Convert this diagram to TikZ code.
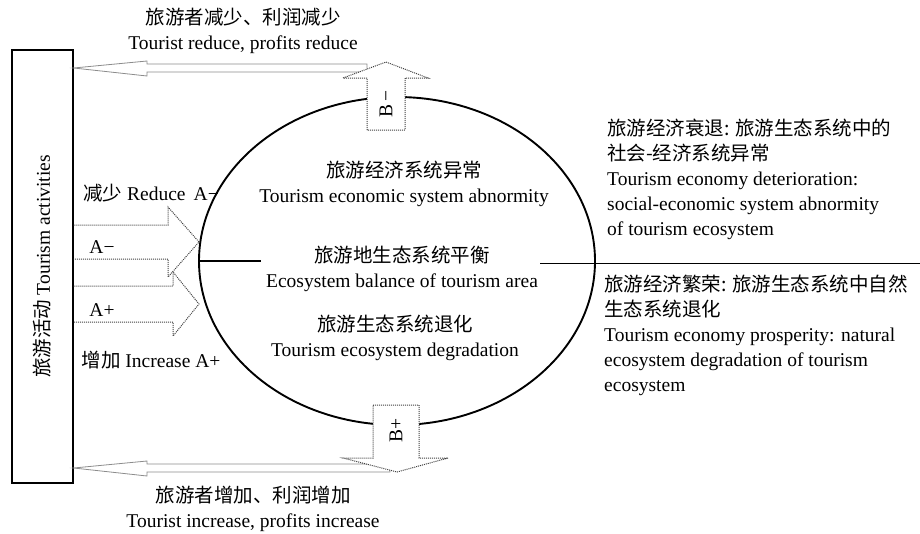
\documentclass[tikz,border=0pt]{standalone}
\usepackage{fontspec}
\setmainfont{Liberation Serif}
\newfontfamily\cjk{Noto Sans CJK SC}
\usetikzlibrary{shapes.geometric}
\newcommand{\ZhLess}{{\cjk 旅游者减少、利润减少}}
\newcommand{\ZhMore}{{\cjk 旅游者增加、利润增加}}
\newcommand{\EnLess}{Tourist reduce, profits reduce}
\newcommand{\EnMore}{Tourist increase, profits increase}

\begin{document}
\begin{tikzpicture}[x=1pt,y=-1pt,font=\fontsize{19.5}{25}\selectfont,
  blk/.style={draw=gray!50!black, dash pattern=on 1pt off 1pt, line width=1pt},
  flow/.style={draw=gray!90, line width=0.8pt, fill=white},
  txt/.style={align=center, inner sep=0pt}]
  \useasboundingbox (0,0) rectangle (920,533);

  \node[draw, line width=1.2pt, minimum width=61, minimum height=433, inner sep=0] (act) at (42.5,266.5) {};
  \node[rotate=90, inner sep=0] (actlbl) at (act) {{\cjk 旅游活动} Tourism activities};
  \node[ellipse, draw, line width=1.9pt, minimum width=396, minimum height=328, inner sep=0] (eco) at (397,261) {};

  \draw[line width=1.2pt] (eco.west) -- +(63,0);
  \draw[line width=0.9pt] (540,263) -- (920,263);

  \draw[flow] (act.east |- 0,68) -- (147,61) -- (147,64) -- (367,64) -- (367,72) -- (147,72) -- (147,76) -- cycle;
  \draw[flow] (act.east |- 0,468) -- (147,461) -- (147,464) -- (390,464) -- (390,472) -- (147,472) -- (147,476) -- cycle;

  \draw[blk, fill=white] (367,130) -- (367,78) -- (343,78) -- (386,62) -- (428,78) -- (405,78) -- (405,130) -- cycle;
  \draw[blk, fill=white] (373,405) -- (419,405) -- (419,458) -- (448,458) -- (397,472) -- (343,458) -- (373,458) -- cycle;
  \node[rotate=90, inner sep=0] (bminus) at (386,104) {B\,−};
  \node[rotate=90, inner sep=0] (bplus) at (396,430) {B+};

  \draw[blk] (act.east |- 0,225) -- (168,225) -- (168,207) -- (199,242) -- (168,277) -- (168,259) -- (act.east |- 0,259);
  \draw[blk] (act.east |- 0,286) -- (173,286) -- (173,272) -- (199,304) -- (173,336) -- (173,322) -- (act.east |- 0,322);

  \node[inner sep=0] (redA) at (151,193) {{\cjk 减少} Reduce \,A−};
  \node[inner sep=0] (am) at (102,247) {A−};
  \node[inner sep=0] (ap) at (102,310) {A+};
  \node[inner sep=0] (incA) at (151,360) {{\cjk 增加} Increase A+};

  \node[txt] (less) at (243,31) {\ZhLess\\ \EnLess};
  \node[txt] (more) at (253,509) {\ZhMore\\ \EnMore};

  \node[txt] (econ) at (404,184) {{\cjk 旅游经济系统异常}\\ Tourism economic system abnormity};
  \node[txt] (bal) at (402,269) {{\cjk 旅游地生态系统平衡}\\ Ecosystem balance of tourism area};
  \node[txt] (degr) at (395,338) {{\cjk 旅游生态系统退化}\\ Tourism ecosystem degradation};

  \node[txt, align=left, anchor=north west] (down) at (607,119) {{\cjk 旅游经济衰退: 旅游生态系统中的}\\ {\cjk 社会-经济系统异常}\\ Tourism economy deterioration:\\ social-economic system abnormity\\ of tourism ecosystem};
  \node[txt, align=left, anchor=north west] (up) at (604,275) {{\cjk 旅游经济繁荣: 旅游生态系统中自然}\\ {\cjk 生态系统退化}\\ Tourism economy prosperity: natural\\ ecosystem degradation of tourism\\ ecosystem};
\end{tikzpicture}
\end{document}
